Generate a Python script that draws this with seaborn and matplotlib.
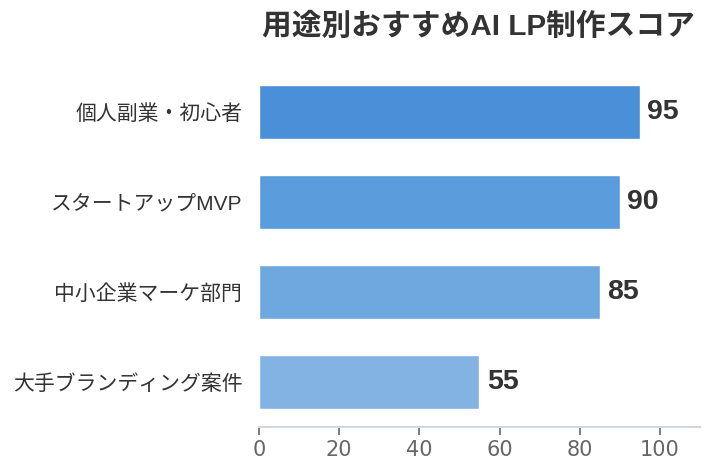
import matplotlib
matplotlib.use('Agg')
import matplotlib.pyplot as plt
import seaborn as sns
import pandas as pd

# Data
categories = ['個人副業・初心者', 'スタートアップMVP', '中小企業マーケ部門', '大手ブランディング案件']
scores = [95, 90, 85, 55]
bar_colors = ['#4a90d9', '#5a9cdc', '#6ea8df', '#83b3e3']
title = '用途別おすすめAI LP制作スコア'

df = pd.DataFrame({'use': categories, 'score': scores})

sns.set_style('white')
fonts = ['Liberation Sans', 'Noto Sans CJK JP', 'DejaVu Sans']
plt.rcParams['font.family'] = fonts

fig = plt.figure(figsize=(7.14, 4.76), dpi=100)
ax = fig.add_axes([0.3627, 0.1029, 0.9804 - 0.3627, 0.8592 - 0.1029])

sns.barplot(data=df, x='score', y='use', hue='use', palette=bar_colors,
            width=0.6, legend=False, ax=ax, saturation=1)

for i, v in enumerate(scores):
    ax.text(v + 1.8, i, str(v), va='center', ha='left', fontsize=20.5,
            fontweight='bold', color='#333333')

ax.set_xlim(0, 110)
ax.set_ylim(3.5, -0.5)
ax.set_xticks([0, 20, 40, 60, 80, 100])
ax.set_xlabel('')
ax.set_ylabel('')
ax.tick_params(axis='x', colors='#666666', labelsize=15, length=6, width=1.2,
               direction='out', bottom=True, labelfontfamily='DejaVu Sans')
ax.tick_params(axis='y', length=0, labelsize=15, labelcolor='#333333', pad=12)
for s in ['top', 'right', 'left']:
    ax.spines[s].set_visible(False)
ax.spines['bottom'].set_color('#d0d7e0')
ax.spines['bottom'].set_linewidth(1.5)

fig.text(0.67, 0.943, title, ha='center', va='center', fontsize=21.4,
         fontweight='bold', color='#333333')

fig.savefig('out.png', dpi=100)
